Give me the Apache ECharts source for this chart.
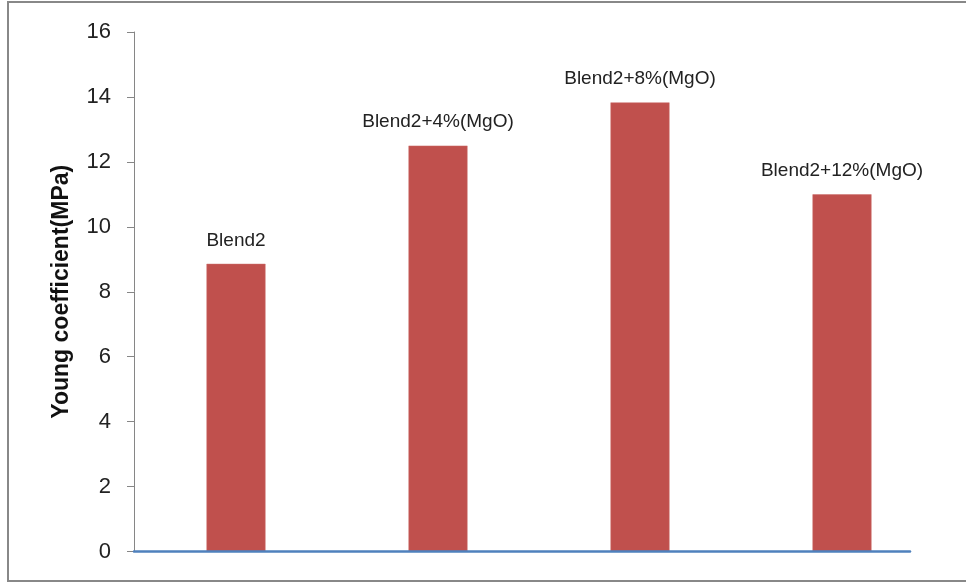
<!DOCTYPE html>
<html>
<head>
<meta charset="utf-8">
<script src="https://cdn.jsdelivr.net/npm/echarts@6/dist/echarts.min.js"></script>
<style>
  html, body { margin: 0; padding: 0; background: #ffffff; }
  #chart { width: 966px; height: 583px; }
</style>
</head>
<body>
<div id="chart"></div>
<script>
// Samples and their Young coefficient (MPa)
var categories = ['Blend2', 'Blend2+4%(MgO)', 'Blend2+8%(MgO)', 'Blend2+12%(MgO)'];
var youngValues = [8.86, 12.5, 13.83, 11.0];
var yTicks = { min: 0, max: 16, step: 2 };
var yTitle = 'Young coefficient(MPa)';

var chart = echarts.init(document.getElementById('chart'), null, { renderer: 'canvas' });

var plotTop = 32;
var plotHeight = 519.5;

chart.setOption({
  animation: false,
  backgroundColor: '#ffffff',
  textStyle: { fontFamily: 'Liberation Sans, Arial, sans-serif' },
  graphic: [{
    type: 'rect',
    shape: { x: 8, y: 2, width: 980, height: 579 },
    style: { fill: 'none', stroke: '#888888', lineWidth: 2 },
    silent: true,
    z: 100
  }],
  grid: [
    { left: 135, top: plotTop, width: 808, height: plotHeight },
    { left: 134, top: plotTop, width: 776, height: plotHeight }
  ],
  xAxis: [
    {
      type: 'category',
      gridIndex: 0,
      data: categories,
      axisLine: { show: false },
      axisTick: { show: false },
      axisLabel: { show: false }
    },
    {
      // baseline of the plot area
      type: 'value',
      gridIndex: 1,
      min: 0, max: 1,
      axisLine: { show: true, lineStyle: { color: '#4F81BD', width: 2.5 } },
      axisTick: { show: false },
      axisLabel: { show: false },
      splitLine: { show: false },
      z: 10
    }
  ],
  yAxis: [
    {
      type: 'value',
      gridIndex: 1,
      min: yTicks.min,
      max: yTicks.max,
      interval: yTicks.step,
      name: yTitle,
      nameLocation: 'middle',
      nameGap: 61,
      nameRotate: 90,
      nameTextStyle: { fontSize: 23, fontWeight: 'bold', color: '#111111', fontFamily: 'Liberation Sans' },
      axisLine: { show: true, lineStyle: { color: '#868686', width: 1 } },
      axisTick: { show: true, inside: false, length: 7, lineStyle: { color: '#868686' } },
      axisLabel: { fontSize: 22, color: '#222222', margin: 23, fontFamily: 'Liberation Sans' },
      splitLine: { show: false }
    },
    {
      type: 'value',
      gridIndex: 0,
      show: false,
      min: yTicks.min,
      max: yTicks.max
    }
  ],
  series: [{
    type: 'bar',
    xAxisIndex: 0,
    yAxisIndex: 1,
    data: youngValues,
    barWidth: 59,
    itemStyle: { color: '#C0504D', borderColor: '#CC6E6B', borderWidth: 0.5 },
    label: {
      show: true,
      position: 'top',
      distance: 14,
      formatter: '{b}',
      fontSize: 19,
      color: '#222222',
      fontFamily: 'Liberation Sans'
    }
  }]
});
</script>
</body>
</html>
